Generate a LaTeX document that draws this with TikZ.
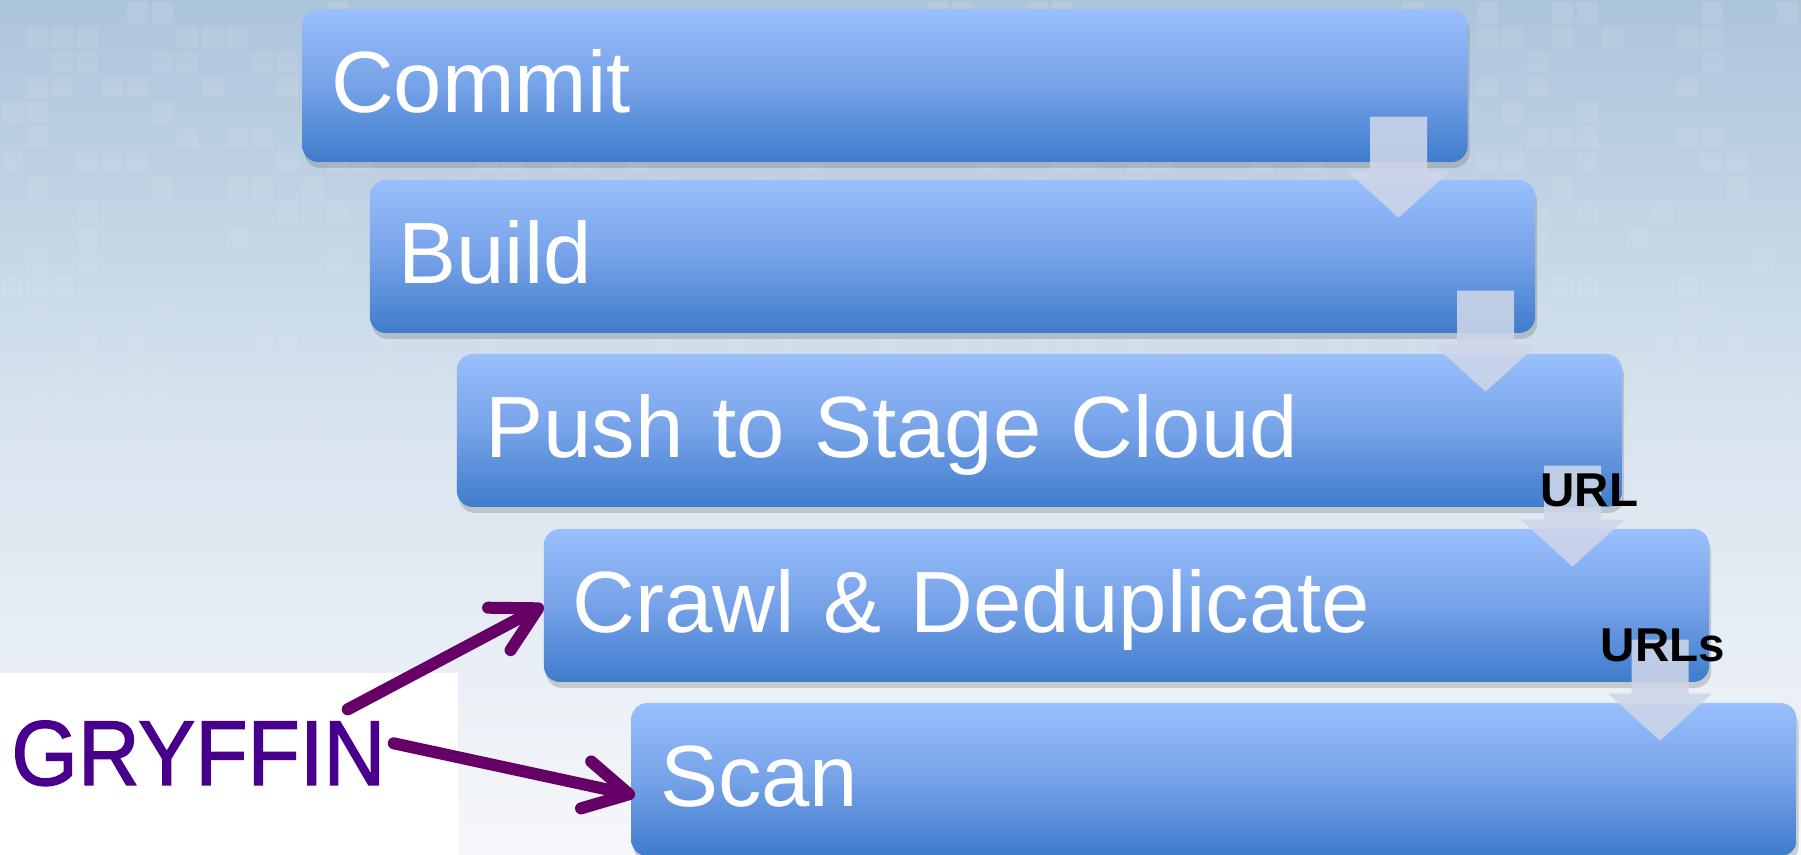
\documentclass[tikz,border=0pt]{standalone}
\usepackage{fontspec}
\setmainfont{Liberation Sans}
\newfontfamily\gryfont[FakeBold=1.6]{Liberation Sans}
\usetikzlibrary{positioning, calc, shadows, arrows.meta}

\definecolor{bgtop}{RGB}{172,196,218}
\definecolor{bgmid}{RGB}{216,228,239}
\definecolor{bgbot}{RGB}{246,247,250}
\definecolor{stagetop}{RGB}{153,191,252}
\definecolor{stagemid}{RGB}{118,162,232}
\definecolor{stagebot}{RGB}{63,124,204}
\definecolor{chevron}{RGB}{206,214,232}
\definecolor{gryink}{RGB}{72,0,140}
\definecolor{grypurple}{RGB}{102,0,102}

% down arrow sitting on the top right part of a stage
\newcommand\stagearrow[1]{%
  \fill[flowarrow] ($(#1.north east)+(-165.5,63)$) -- ++(57,0) -- ++(0,-54) -- ++(23.5,0)
    -- ($(#1.north east)+(-137,-38)$) -- ($(#1.north east)+(-189,9)$) -- ++(23.5,0) -- cycle;
}

\tikzset{
  stage/.style={rectangle, rounded corners=8pt,
    top color=stagetop, bottom color=stagebot, middle color=stagemid,
    drop shadow={shadow xshift=1pt, shadow yshift=-3pt, opacity=.35},
    text=white, font=\fontsize{43.5}{50}\selectfont,
    text width=554pt, align=left, inner xsep=14.3pt, inner ysep=0pt,
    minimum height=76.5pt, text height=33pt, text depth=5.5pt},
  flowarrow/.style={fill=chevron, fill opacity=.88},
  tag/.style={anchor=base, inner sep=0pt, font=\bfseries\fontsize{23.75}{26}\selectfont},
  gryarrow/.style={draw=grypurple, line width=6pt, line cap=round,
    -{Straight Barb[length=22pt, width=24pt, round]}},
}

\begin{document}
\begin{tikzpicture}[x=0.5pt, y=0.5pt, on grid]
    \useasboundingbox (0,0) rectangle (1801,855);
    \fill[top color=bgtop, bottom color=bgbot, middle color=bgmid] (0,0) rectangle (1801,855);
    % faint tiles in the backdrop
    \pgfmathsetseed{11}
    \foreach \i in {0,...,71}{
      \foreach \j in {0,...,23}{
        \pgfmathsetmacro\r{rnd}
        \pgfmathsetmacro\o{0.1*(1-\j/24)}
        \ifdim\r pt<0.28pt
          \fill[white, opacity=\o] (\i*25+2, 853-\j*25) rectangle ++(21,-21);
        \fi
      }
    }
    \fill[white] (0,0) rectangle (458,182);

    \node[stage] (commit) at (885,769.5) {Commit};
    \node[stage, below right=85.5pt and 33.75pt of commit] (build) {Build};
    \node[stage, below right=87pt and 43.5pt of build] (push) {Push to Stage Cloud};
    \node[stage, below right=87.5pt and 43.5pt of push] (crawl) {Crawl \& Deduplicate};
    \node[stage, below right=87pt and 43.75pt of crawl] (scan) {Scan};

    \stagearrow{build}
    \stagearrow{push}
    \stagearrow{crawl}
    \stagearrow{scan}

    \node[tag] (url) at ($(crawl.north east)+(-120,22)$) {URL};
    \node[tag] (urls) at ($(scan.north east)+(-134,41)$) {URLs};

    \node[anchor=base west, inner sep=0pt, text=gryink, font=\gryfont\fontsize{46}{50}\selectfont]
      (gryffin) at (11,70) {\scalebox{0.93}[1]{GRYFFIN}};
    \draw[gryarrow] ($(gryffin.north east)+(-38,11)$) -- (crawl.west);
    \draw[gryarrow] ($(gryffin.east)+(8,10)$) -- ($(scan.west)+(4,-16)$);
\end{tikzpicture}
\end{document}
